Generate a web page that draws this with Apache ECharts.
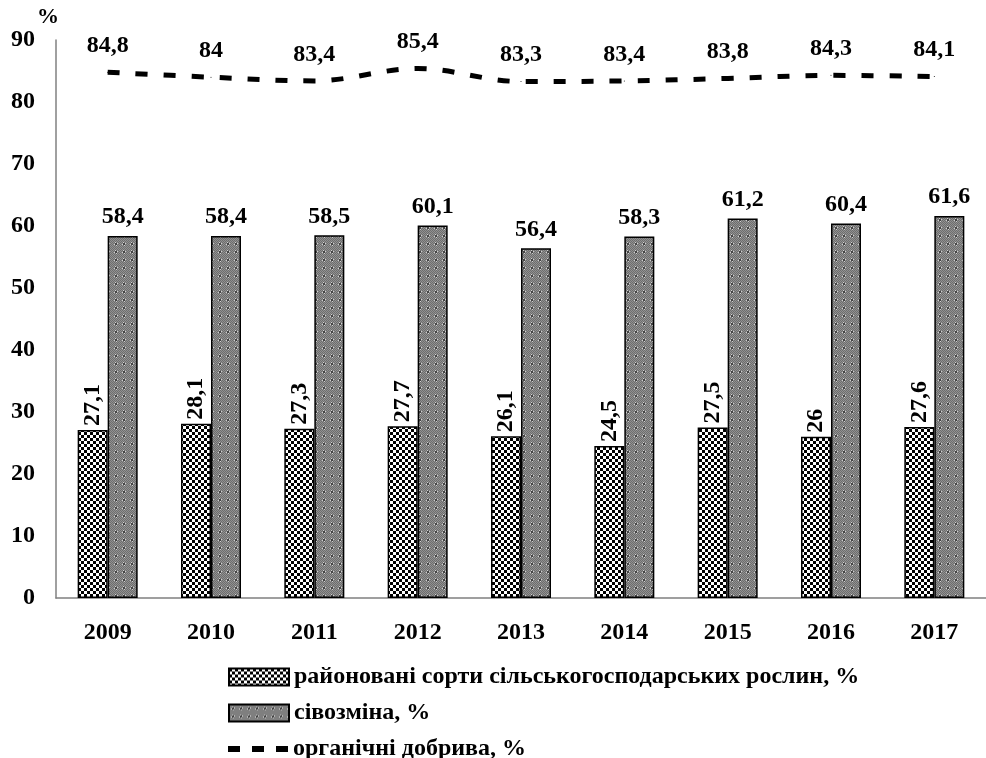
<!DOCTYPE html>
<html><head><meta charset="utf-8">
<script src="https://cdn.jsdelivr.net/npm/echarts@6/dist/echarts.min.js"></script>
<style>html,body{margin:0;padding:0;background:#fff}#c{width:986px;height:758px}</style>
</head><body><div id="c"></div>
<script>
const years = ['2009','2010','2011','2012','2013','2014','2015','2016','2017'];
const varieties = [27.1, 28.1, 27.3, 27.7, 26.1, 24.5, 27.5, 26, 27.6];
const rotation = [58.4, 58.4, 58.5, 60.1, 56.4, 58.3, 61.2, 60.4, 61.6];
const organic = [84.8, 84, 83.4, 85.4, 83.3, 83.4, 83.8, 84.3, 84.1];
const yTicks = [0, 10, 20, 30, 40, 50, 60, 70, 80, 90];
const names = ['районовані сорти сільськогосподарських рослин, %', 'сівозміна, %', 'органічні добрива, %'];

function checker() {
  const c = document.createElement('canvas'); c.width = 6; c.height = 6;
  const g = c.getContext('2d');
  g.fillStyle = '#fff'; g.fillRect(0,0,6,6);
  g.fillStyle = '#000'; g.fillRect(0,0,3,3); g.fillRect(3,3,3,3);
  return c;
}
function grayPat() {
  const c = document.createElement('canvas'); c.width = 8; c.height = 8;
  const g = c.getContext('2d');
  g.fillStyle = '#909090'; g.fillRect(0,0,8,8);
  g.fillStyle = '#6e6e6e';
  for (let i=0;i<8;i++) for (let j=0;j<8;j++) if ((i+j)%2===0) g.fillRect(i,j,1,1);
  g.fillStyle = '#d0d0d0';
  g.fillRect(3,2,1,1); g.fillRect(2,4,1,1); g.fillRect(5,3,1,1); g.fillRect(4,5,1,1);
  g.fillStyle = '#444'; g.fillRect(3,3,2,2);
  return c;
}
const fmt = v => String(v).replace('.', ',');
const font = {fontFamily: 'Liberation Serif', fontWeight: 'bold', fontSize: 24, color: '#000'};
const legFont = Object.assign({}, font, {fontSize: 24});
const chart = echarts.init(document.getElementById('c'));
chart.setOption({
  animation: false,
  grid: {left: 56, top: 40, width: 944, height: 558},
  legend: [
    {left: 228, top: 665, padding: 0, itemGap: 4, itemWidth: 60, itemHeight: 17, icon: 'rect', textStyle: legFont, data: [names[0]]},
    {left: 228, top: 701, padding: 0, itemGap: 4, itemWidth: 60, itemHeight: 17, icon: 'rect', textStyle: legFont, data: [names[1]]},
    {left: 228, top: 737, padding: 0, itemGap: 4, itemWidth: 60, itemHeight: 6, textStyle: legFont,
     data: [{name: names[2], icon: 'path://M0,0h12v6h-12z M24,0h12v6h-12z M48,0h12v6h-12z'}]}
  ],
  xAxis: {
    type: 'category', data: years,
    axisLine: {lineStyle: {color: '#808080', width: 1.5}},
    axisTick: {show: false},
    axisLabel: Object.assign({}, font, {margin: 23})
  },
  yAxis: {
    type: 'value', min: 0, max: 90, interval: 10,
    name: '%', nameGap: 10, nameTextStyle: Object.assign({}, font, {fontSize: 22, padding: [0, 16, 0, 0]}),
    axisLine: {show: true, lineStyle: {color: '#808080', width: 1.5}},
    axisTick: {show: false}, splitLine: {show: false},
    axisLabel: Object.assign({}, font, {margin: 21, formatter: v => yTicks.includes(v) ? String(v) : ''})
  },
  series: [
    {
      name: names[0], type: 'bar', data: varieties, barWidth: 30, barGap: '0%',
      itemStyle: {color: {image: checker(), repeat: 'repeat'}, borderColor: '#000', borderWidth: 1.5},
      label: Object.assign({show: true, position: 'top', rotate: 90, align: 'left', verticalAlign: 'middle', distance: 4, formatter: p => fmt(p.value)}, font)
    },
    {
      name: names[1], type: 'bar', data: rotation, barWidth: 30,
      itemStyle: {color: {image: grayPat(), repeat: 'repeat'}, borderColor: '#000', borderWidth: 1.5},
      label: Object.assign({show: true, position: 'top', distance: 7, formatter: p => fmt(p.value)}, font)
    },
    {
      name: names[2], type: 'line', data: organic, smooth: 0.35, symbol: 'circle', symbolSize: 1, showSymbol: true,
      lineStyle: {color: '#000', width: 5, type: [12, 16]},
      itemStyle: {color: '#000'},
      label: Object.assign({show: true, position: 'top', distance: 14, formatter: p => fmt(p.value)}, font)
    }
  ]
});
</script></body></html>
